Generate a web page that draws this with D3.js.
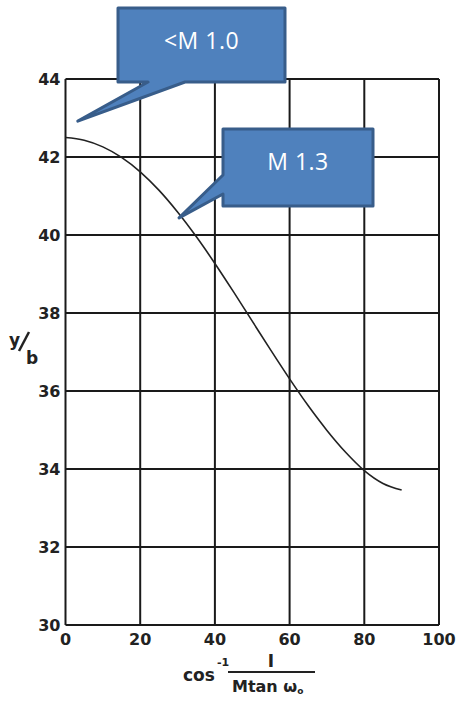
<!DOCTYPE html>
<html>
<head>
<meta charset="utf-8">
<script src="https://cdn.jsdelivr.net/npm/d3@7"></script>
<style>
  html, body { margin: 0; padding: 0; background: #fff; }
  svg { display: block; }
  .tick-label { font-family: "DejaVu Sans", sans-serif; font-weight: bold; font-size: 16px; fill: #222; }
  .callout-text { font-family: "Open Sans", "Noto Sans", sans-serif; font-size: 23px; fill: #fff; letter-spacing: 0.5px; }
</style>
</head>
<body>
<div id="chart"></div>
<script>
// curve: angle (deg) -> y/b
var angle = [0, 5, 10, 15, 20, 25, 30, 35, 40, 45, 50, 55, 60, 65, 70, 75, 80, 85, 90]
var yOverB = [42.5, 42.43, 42.26, 41.99, 41.62, 41.15, 40.59, 39.96, 39.27, 38.54, 37.79, 37.04, 36.31, 35.62, 34.99, 34.43, 33.96, 33.63, 33.46]

var xTicks = [0, 20, 40, 60, 80, 100]
var yTicks = [30, 32, 34, 36, 38, 40, 42, 44]

// callouts: label, tip in data units
var calloutLabels = ["<M 1.0", "M 1.3"]
var calloutTips = [[3.3, 42.92], [30.4, 40.44]]

var W = 458, H = 705

var svg = d3.select("#chart").append("svg").attr("width", W).attr("height", H)

var x = d3.scaleLinear().domain([0, 100]).range([65.5, 439])
var y = d3.scaleLinear().domain([30, 44]).range([625, 79])

//* grid
var grid = svg.append("g").attr("stroke", "#1a1a1a").attr("stroke-width", 2)
grid.selectAll("line.v").data(xTicks).enter().append("line").attr("class", "v")
    .attr("x1", d => x(d)).attr("x2", d => x(d))
    .attr("y1", y(30)).attr("y2", y(44))
grid.selectAll("line.h").data(yTicks).enter().append("line").attr("class", "h")
    .attr("x1", x(0)).attr("x2", x(100))
    .attr("y1", d => y(d)).attr("y2", d => y(d))

//* tick labels
svg.selectAll("text.yt").data(yTicks).enter().append("text")
    .attr("class", "tick-label yt")
    .attr("x", x(0) - 5).attr("y", d => y(d) + 6)
    .attr("text-anchor", "end")
    .text(d => d)
svg.selectAll("text.xt").data(xTicks).enter().append("text")
    .attr("class", "tick-label xt")
    .attr("x", d => x(d)).attr("y", y(30) + 20)
    .attr("text-anchor", "middle")
    .text(d => d)

//* curve
var pts = angle.map((a, i) => [a, yOverB[i]])
svg.append("path").datum(pts)
    .attr("fill", "none").attr("stroke", "#222").attr("stroke-width", 1.6)
    .attr("d", d3.line().x(d => x(d[0])).y(d => y(d[1])).curve(d3.curveMonotoneX))

//* axis titles
svg.append("text").attr("class", "tick-label").attr("x", 9).attr("y", 346).style("font-size", "17px").text("y")
svg.append("line").attr("x1", 19).attr("y1", 351).attr("x2", 29).attr("y2", 332).attr("stroke", "#222").attr("stroke-width", 2.5)
svg.append("text").attr("class", "tick-label").attr("x", 26).attr("y", 364).style("font-size", "17px").text("b")

var xl = svg.append("text").attr("class", "tick-label").attr("x", 183).attr("y", 681).style("font-size", "17px")
xl.append("tspan").text("cos")
xl.append("tspan").attr("dx", 2).attr("dy", -15).style("font-size", "11px").text("-1")
svg.append("line").attr("x1", 228).attr("x2", 315).attr("y1", 672).attr("y2", 672).attr("stroke", "#222").attr("stroke-width", 2)
svg.append("text").attr("class", "tick-label").attr("x", 271).attr("y", 667).attr("text-anchor", "middle").style("font-size", "17px").text("I")
var dl = svg.append("text").attr("class", "tick-label").attr("x", 232).attr("y", 692).style("font-size", "16px")
dl.append("tspan").text("Mtan ω")
dl.append("tspan").attr("dy", 2).style("font-size", "9px").text("o")

//* callouts
var boxes = [{x: 118, y: 8, w: 167, h: 74, a: 148, b: 185, side: "bottom"},
             {x: 223, y: 129, w: 150, h: 77, a: 175, b: 194, side: "left"}]
var fill = "#4f81bd", edge = "#385d8a"
boxes.forEach(function(bx, i){
    var tx = x(calloutTips[i][0]), ty = y(calloutTips[i][1])
    var p = d3.path()
    p.moveTo(bx.x, bx.y)
    p.lineTo(bx.x + bx.w, bx.y)
    p.lineTo(bx.x + bx.w, bx.y + bx.h)
    if (bx.side == "bottom") {
        p.lineTo(bx.b, bx.y + bx.h)
        p.lineTo(tx, ty)
        p.lineTo(bx.a, bx.y + bx.h)
        p.lineTo(bx.x, bx.y + bx.h)
        p.closePath()
    } else {
        p.lineTo(bx.x, bx.y + bx.h)
        p.lineTo(bx.x, bx.b)
        p.lineTo(tx, ty)
        p.lineTo(bx.x, bx.a)
        p.closePath()
    }
    svg.append("path").attr("d", p.toString())
        .attr("fill", fill).attr("stroke", edge).attr("stroke-width", 3).attr("stroke-linejoin", "round")
    svg.append("text").attr("class", "callout-text")
        .attr("x", bx.x + bx.w / 2).attr("y", bx.y + 41)
        .attr("text-anchor", "middle")
        .text(calloutLabels[i])
})
</script>
</body>
</html>
